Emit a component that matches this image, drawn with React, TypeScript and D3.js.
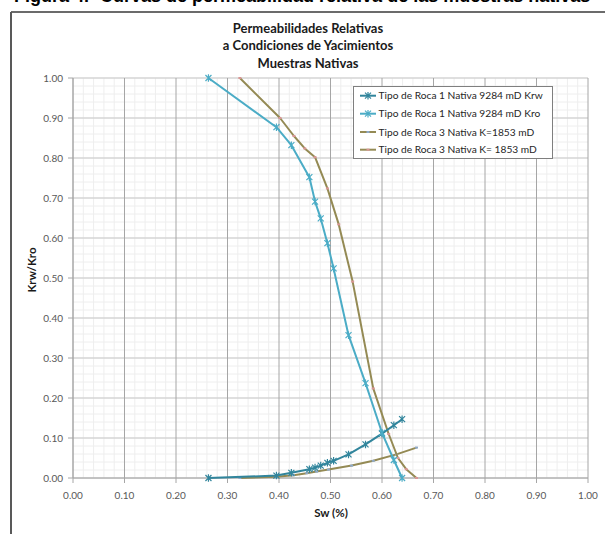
import React from 'react';
import * as d3 from 'd3';

// ---- Data ----
const xTickValues = [0, 0.1, 0.2, 0.3, 0.4, 0.5, 0.6, 0.7, 0.8, 0.9, 1.0];
const yTickValues = [0, 0.1, 0.2, 0.3, 0.4, 0.5, 0.6, 0.7, 0.8, 0.9, 1.0];

const titleLines = ['Permeabilidades Relativas', 'a Condiciones de Yacimientos', 'Muestras Nativas'];
const xTitle = 'Sw (%)';
const yTitle = 'Krw/Kro';
const captionText = 'Figura 4.- Curvas de permeabilidad relativa de las muestras nativas';

const seriesNames = [
  'Tipo de Roca 1 Nativa 9284 mD Krw',
  'Tipo de Roca 1 Nativa 9284 mD Kro',
  'Tipo de Roca 3 Nativa K=1853 mD',
  'Tipo de Roca 3 Nativa K= 1853 mD',
];

// Rock type 1 (shared saturations)
const swR1 = [0.263, 0.395, 0.424, 0.459, 0.47, 0.481, 0.494, 0.506, 0.535, 0.568, 0.6, 0.623, 0.639];
const krwR1 = [0.0, 0.006, 0.013, 0.022, 0.026, 0.031, 0.038, 0.043, 0.059, 0.084, 0.111, 0.132, 0.147];
const kroR1 = [1.0, 0.877, 0.832, 0.752, 0.691, 0.649, 0.587, 0.524, 0.357, 0.237, 0.113, 0.045, 0.0];

// Rock type 3
const swKrwR3 = [0.324, 0.395, 0.428, 0.454, 0.473, 0.496, 0.541, 0.583, 0.628, 0.667];
const krwR3 = [0.0, 0.003, 0.007, 0.012, 0.016, 0.021, 0.031, 0.043, 0.059, 0.076];
const swKroR3 = [0.324, 0.402, 0.429, 0.45, 0.47, 0.494, 0.516, 0.543, 0.583, 0.613, 0.631, 0.647, 0.667];
const kroR3 = [1.0, 0.9, 0.855, 0.824, 0.802, 0.724, 0.634, 0.491, 0.224, 0.11, 0.05, 0.022, 0.0];

const COLORS = ['#31859c', '#4bacc6', '#948a54', '#948a54'];
const MARKER_COLORS = ['#31859c', '#4bacc6', '#8ea9c8', '#d99694'];

const FONT = 'Lato, "Open Sans", sans-serif';

function starPath(s: number) {
  const v = s * 1.25;
  return `M${-s},${-s}L${s},${s}M${-s},${s}L${s},${-s}M0,${-v}L0,${v}`;
}

export default function App() {
  const W = 605;
  const H = 534;
  const x = d3.scaleLinear().domain([0, 1]).range([73, 588]);
  const y = d3.scaleLinear().domain([0, 1]).range([478, 78]);

  const minorTicks = d3.range(0, 1.0001, 0.02).filter((v) => Math.abs(Math.round(v * 10) - v * 10) > 1e-6);

  const line = d3
    .line<[number, number]>()
    .x((d) => x(d[0]))
    .y((d) => y(d[1]));

  const series = [
    { name: seriesNames[0], pts: swR1.map((s, i) => [s, krwR1[i]] as [number, number]), marker: 'star' },
    { name: seriesNames[1], pts: swR1.map((s, i) => [s, kroR1[i]] as [number, number]), marker: 'star' },
    { name: seriesNames[2], pts: swKrwR3.map((s, i) => [s, krwR3[i]] as [number, number]), marker: 'dot' },
    { name: seriesNames[3], pts: swKroR3.map((s, i) => [s, kroR3[i]] as [number, number]), marker: 'dot' },
  ];

  const drawOrder = [2, 3, 0, 1];

  const legendX = 353.5;
  const legendY = 86.5;
  const legendW = 199;
  const legendH = 72;
  const rowY = [95.7, 113.7, 132, 149.7];

  return (
    <svg
      width={W}
      height={H}
      style={{ position: 'absolute', left: 0, top: 0, background: '#fff' }}
      fontFamily={FONT}
    >
      <rect x={0} y={0} width={W} height={H} fill="#fff" />
      {/* caption above the frame, mostly outside the visible page in the reference */}
      <text x={14} y={2} fontFamily='"Liberation Sans", Arial, sans-serif' fontWeight="bold" fontSize={18} fill="#000">
        {captionText}
      </text>
      {/* frame */}
      <line x1={11} y1={12} x2={W} y2={12} stroke="#3a3a3a" strokeWidth={1.5} />
      <line x1={11} y1={12} x2={11} y2={H} stroke="#595959" strokeWidth={2} />

      {/* minor gridlines */}
      {minorTicks.map((v) => (
        <g key={'m' + v}>
          <line x1={x(v)} x2={x(v)} y1={y(0)} y2={y(1)} stroke="#eeeeee" strokeWidth={1} />
          <line x1={x(0)} x2={x(1)} y1={y(v)} y2={y(v)} stroke="#eeeeee" strokeWidth={1} />
        </g>
      ))}
      {/* major gridlines */}
      {yTickValues.map((v) => (
        <line key={'hy' + v} x1={x(0)} x2={x(1)} y1={y(v)} y2={y(v)} stroke="#d4d4d4" strokeWidth={1.5} />
      ))}
      {xTickValues.map((v) => (
        <line key={'vx' + v} x1={x(v)} x2={x(v)} y1={y(0)} y2={y(1)} stroke="#a6a6a6" strokeWidth={1} />
      ))}

      {/* axes */}
      <line x1={x(0)} x2={x(0)} y1={y(0)} y2={y(1)} stroke="#a6a6a6" strokeWidth={1} />
      <line x1={x(0)} x2={x(1)} y1={y(0)} y2={y(0)} stroke="#a6a6a6" strokeWidth={1} />
      {yTickValues.map((v) => (
        <g key={'yt' + v}>
          <line x1={x(0) - 5} x2={x(0)} y1={y(v)} y2={y(v)} stroke="#a6a6a6" />
          <text x={x(0) - 10} y={y(v)} dy="0.35em" textAnchor="end" fontSize={10} fill="#595959">
            {d3.format('.2f')(v)}
          </text>
        </g>
      ))}
      {xTickValues.map((v) => (
        <g key={'xt' + v}>
          <line x1={x(v)} x2={x(v)} y1={y(0)} y2={y(0) + 5} stroke="#a6a6a6" />
          <text x={x(v)} y={y(0) + 17} dy="0.35em" textAnchor="middle" fontSize={10} fill="#595959">
            {d3.format('.2f')(v)}
          </text>
        </g>
      ))}

      {/* series */}
      {drawOrder.map((i) => {
        const s = series[i];
        return (
          <g key={'s' + i}>
            <path d={line(s.pts) || ''} fill="none" stroke={COLORS[i]} strokeWidth={2} strokeLinejoin="round" />
            {s.pts.map((p, j) =>
              s.marker === 'star' ? (
                <path
                  key={j}
                  transform={`translate(${x(p[0])},${y(p[1])})`}
                  d={starPath(3)}
                  stroke={MARKER_COLORS[i]}
                  strokeWidth={1.2}
                  fill="none"
                />
              ) : (
                <rect
                  key={j}
                  x={x(p[0]) - 1.5}
                  y={y(p[1]) - 1}
                  width={3}
                  height={2}
                  fill={MARKER_COLORS[i]}
                />
              )
            )}
          </g>
        );
      })}

      {/* titles */}
      {titleLines.map((t, i) => (
        <text
          key={t}
          x={308}
          y={28 + i * 17.5}
          dy="0.35em"
          textAnchor="middle"
          fontWeight="bold"
          fontSize={13}
          fill="#1a1a1a"
        >
          {t}
        </text>
      ))}
      <text x={331} y={513} dy="0.35em" textAnchor="middle" fontWeight="bold" fontSize={11.5} fill="#1a1a1a">
        {xTitle}
      </text>
      <text
        transform={`translate(32,${y(0.52)}) rotate(-90)`}
        dy="0.35em"
        textAnchor="middle"
        fontWeight="bold"
        fontSize={11.5}
        fill="#1a1a1a"
      >
        {yTitle}
      </text>

      {/* legend */}
      <rect x={legendX} y={legendY} width={legendW} height={legendH} fill="#fff" stroke="#7f7f7f" strokeWidth={1} />
      {series.map((s, i) => (
        <g key={'lg' + i}>
          <line x1={360} x2={376} y1={rowY[i]} y2={rowY[i]} stroke={COLORS[i]} strokeWidth={2} />
          {s.marker === 'star' ? (
            <path
              transform={`translate(368,${rowY[i]})`}
              d={starPath(3)}
              stroke={MARKER_COLORS[i]}
              strokeWidth={1.2}
              fill="none"
            />
          ) : (
            <rect x={366.5} y={rowY[i] - 1} width={3} height={2} fill={MARKER_COLORS[i]} />
          )}
          <text x={378.5} y={rowY[i]} dy="0.35em" fontSize={10.2} fill="#262626">
            {s.name}
          </text>
        </g>
      ))}
    </svg>
  );
}
